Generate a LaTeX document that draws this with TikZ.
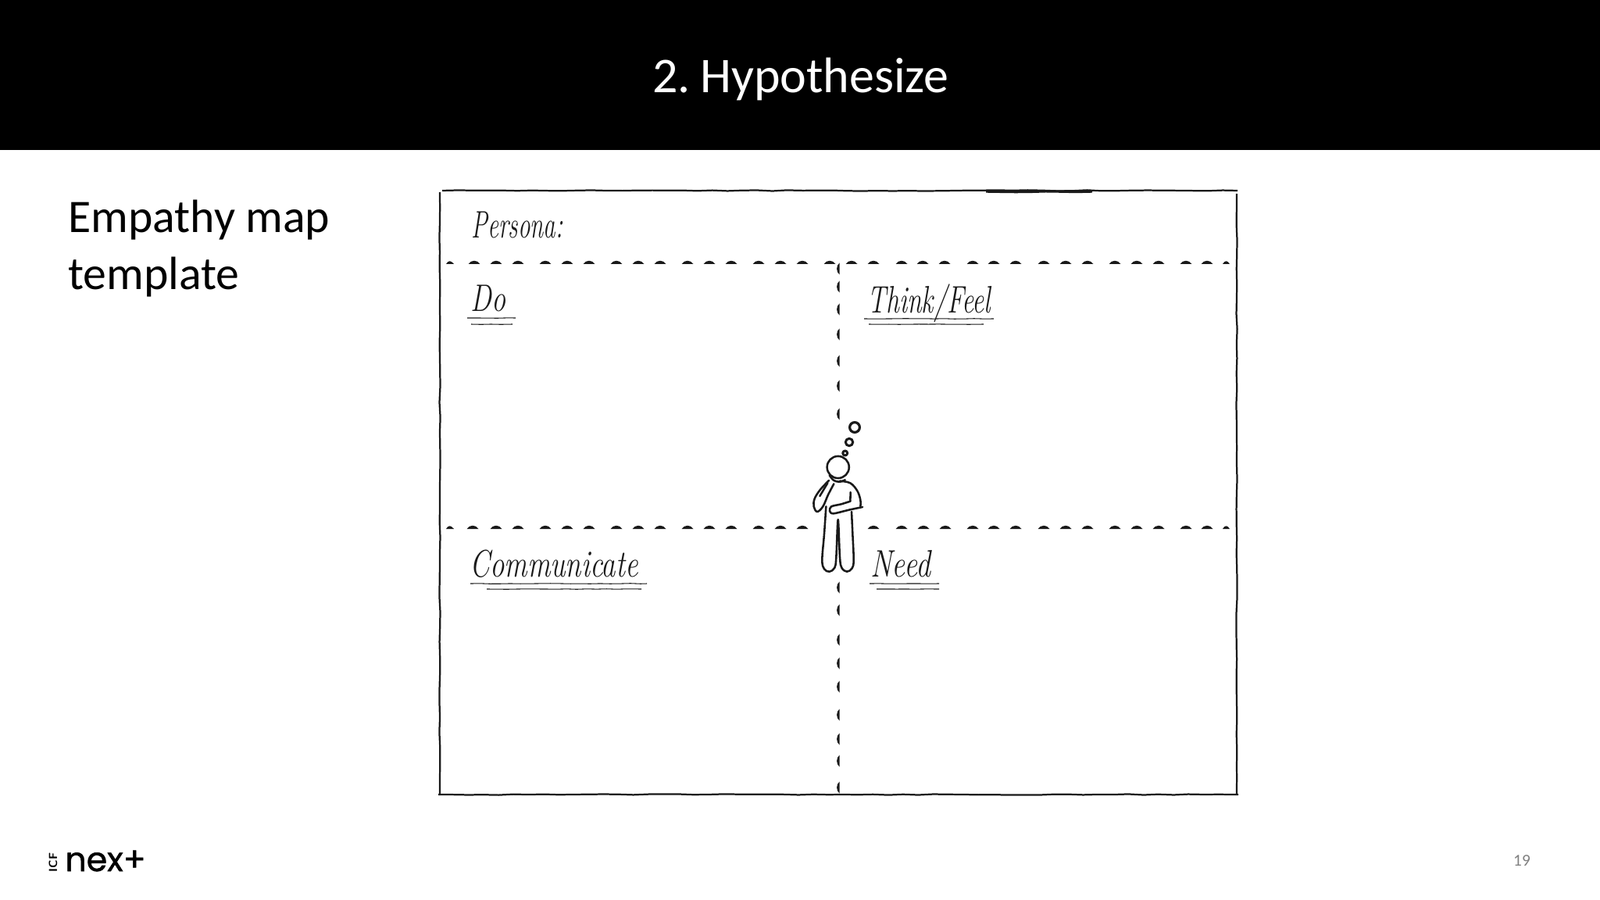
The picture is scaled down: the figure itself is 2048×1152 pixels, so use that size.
\documentclass[tikz,border=0pt]{standalone}
\usepackage{fontspec}
\setmainfont{Carlito}
\newfontfamily\logofont{Poppins}[FakeBold=1.2]
\newfontfamily\handfont{Latin Modern Roman}
\usetikzlibrary{decorations.pathmorphing}
\definecolor{ink}{HTML}{1A1A1A}
\tikzset{
  sketch/.style={draw=ink,line width=1.05pt,decorate,decoration={random steps,segment length=9pt,amplitude=.3pt}},
  thinline/.style={draw=ink,line width=.5pt,decorate,decoration={random steps,segment length=6pt,amplitude=.14pt}},
  body/.style={draw=ink,line width=1.2pt,line cap=round,line join=round},
  hand/.style={inner sep=0pt,anchor=base west,text=ink,font=\handfont\fontsize{23}{23}\selectfont\itshape},
  plain/.style={inner sep=0pt,anchor=base west,text=black}
}
\newcommand{\hdsh}[2]{\fill[ink] (#1-7.5,#2+2) .. controls (#1-4,#2-3.6) and (#1+4,#2-3.6) .. (#1+7.5,#2+2) -- cycle;}
\newcommand{\vdsh}[2]{\fill[ink] (#1+1.5,#2-7.5) .. controls (#1-3,#2-4) and (#1-3,#2+4) .. (#1+1.5,#2+7.5) -- cycle;}
\begin{document}
\begin{tikzpicture}[x=0.46875pt,y=-0.46875pt]
\useasboundingbox (0,0) rectangle (2048,1152);
\fill[white] (0,0) rectangle (2048,1152);
\fill[black] (0,0) rectangle (2048,192);
\node[inner sep=0pt,text=white,font=\fontsize{30}{30}\selectfont,anchor=base] (title) at (1025,119) {2.\kern-1pt\ Hypothesize};
\node[plain,font=\fontsize{28}{28}\selectfont] (emp1) at (87,298) {Empathy map};
\node[plain,font=\fontsize{28}{28}\selectfont] (emp2) at (87,370) {template};
% frame
\path[sketch] (566,244) -- (1584,244);
\path[sketch,line width=1.6pt] (1262,245) -- (1398,245);
\path[sketch] (563,246) -- (563,1017);
\path[sketch] (1583,248) -- (1583,1017);
\path[sketch] (561,1017) -- (1585,1017);
% dashed dividers
\foreach \x in {607,635,663,698,726,754,789,817,845,880,908,936,971,999,1027,1062,1090,1118,1154,1181,1209,1245,1272,1300,1336,1364,1392,1427,1455,1483,1518,1545} {\hdsh{\x}{336}}
\foreach \x in {605,635,663,698,726,754,789,817,845,880,908,936,971,999,1027,1118,1154,1182,1210,1245,1272,1300,1336,1364,1392,1427,1455,1483,1518,1545} {\hdsh{\x}{675}}
\foreach \y in {675,336} {\fill[ink] (571,\y+2) .. controls (574,\y-3) and (577,\y-3) .. (581,\y+2) -- cycle;
 \fill[ink] (1565,\y+2) .. controls (1568,\y-3) and (1571,\y-3) .. (1574,\y+2) -- cycle;}
\foreach \y in {344,367,396,428,462,494,530,752,781,819,849,879,915,946,974,1008} {\vdsh{1073}{\y}}
% labels
\node[hand] (persona) at (603,305) {\resizebox{55pt}{\height}{Persona:}};
\node[hand] (do) at (602,398) {\resizebox{21pt}{\height}{Do}};
\node[hand] (think) at (1110,400) {\resizebox{74pt}{\height}{Think/Feel}};
\node[hand] (comm) at (601,738) {\resizebox{101pt}{\height}{Communicate}};
\node[hand] (need) at (1114,738) {\resizebox{36pt}{\height}{Need}};
% underlines
\path[thinline] (598,407) -- (660,407);
\path[thinline] (603,415) -- (656,415);
\path[thinline] (1106,408) -- (1272,408);
\path[thinline] (1112,415) -- (1259,415);
\path[thinline] (602,747) -- (828,747);
\path[thinline] (623,754) -- (821,754);
\path[thinline] (1113,747) -- (1202,747);
\path[thinline] (1122,754) -- (1202,754);
% figure
\draw[body,line width=1.5pt] (1094,547) circle[radius=3pt];
\draw[body,line width=1.4pt] (1087,566) circle[radius=2.2pt];
\draw[body,line width=1.4pt] (1081.7,580) circle[radius=1.4pt];
\draw[body] (1072.7,598) circle[radius=6.6pt];
\begin{scope}[shift={(960,500)},x=0.15625pt,y=-0.15625pt]
 \draw[body] plot[smooth,tension=.6] coordinates {(292,445) (285,550) (277,650) (285,685) (305,695) (325,680) (331,640) (338,495) (345,640) (352,680) (372,695) (392,682) (398,650) (394,550) (390,465)};
 \draw[body] plot[smooth,tension=.6] coordinates {(345,347) (385,355) (412,385) (424,420) (424,445)};
 \draw[body] plot[smooth,tension=.5] coordinates {(432,447) (380,458) (320,472) (306,462) (312,445) (350,436) (385,425)};
 \draw[body] (385,425) -- (386,390);
 \draw[body] plot[smooth,tension=.6] coordinates {(303,345) (270,380) (248,415) (245,445) (258,465) (280,445) (300,400) (322,358)};
 \draw[body] (298,355) -- (268,405);
 \draw[body] plot[smooth,tension=.6] coordinates {(305,325) (322,345) (345,350) (365,343)};
\end{scope}
% footer
\node[inner sep=0pt,anchor=base west,font=\logofont\fontsize{20}{20}\selectfont] (logo) at (83,1115) {nex+};
\node[inner sep=0pt,anchor=base,rotate=90,font=\bfseries\sffamily\fontsize{7}{7}\selectfont] (icf) at (73,1104) {ICF};
\node[inner sep=0pt,anchor=base,text=gray,font=\fontsize{10}{10}\selectfont] (page) at (1948,1108) {19};
\end{tikzpicture}
\end{document}
